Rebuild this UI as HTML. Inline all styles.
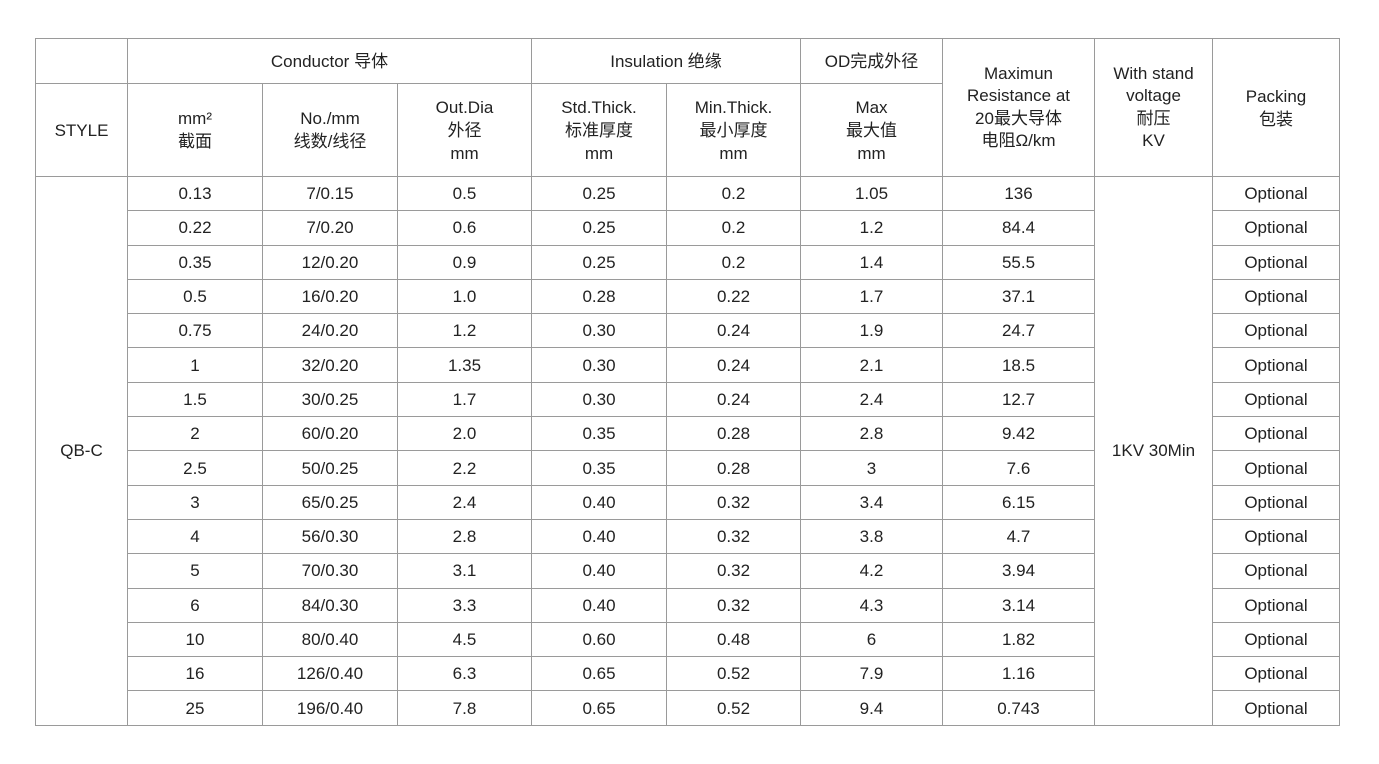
<!DOCTYPE html>
<html><head><meta charset="utf-8"><style>
html,body{margin:0;padding:0;background:#fff;width:1379px;height:764px;overflow:hidden;}
table{position:absolute;left:35px;top:38px;border-collapse:collapse;table-layout:fixed;width:1305px;
font-family:"Liberation Sans","Noto Sans CJK SC",sans-serif;color:#222;font-size:17px;}
td{border:1px solid #9a9a9a;text-align:center;vertical-align:middle;padding:0;line-height:21px;}
tr.h td{line-height:23px;}
tr.d td{height:33.3px;}
</style></head><body>
<table>
<colgroup><col style="width:92px"><col style="width:135px"><col style="width:135px"><col style="width:134px"><col style="width:135px"><col style="width:134px"><col style="width:142px"><col style="width:152px"><col style="width:118px"><col style="width:127px"></colgroup>
<tr class="h" style="height:45px"><td></td><td colspan="3">Conductor 导体</td><td colspan="2">Insulation 绝缘</td><td>OD完成外径</td><td rowspan="2" style="line-height:22.5px">Maximun<br>Resistance at<br>20最大导体<br>电阻Ω/km</td><td rowspan="2" style="line-height:22.5px">With stand<br>voltage<br>耐压<br>KV</td><td rowspan="2">Packing<br>包装</td></tr>
<tr class="h" style="height:93px"><td>STYLE</td><td>mm²<br>截面</td><td>No./mm<br>线数/线径</td><td>Out.Dia<br>外径<br>mm</td><td>Std.Thick.<br>标准厚度<br>mm</td><td>Min.Thick.<br>最小厚度<br>mm</td><td>Max<br>最大值<br>mm</td></tr>
<tr class="d"><td rowspan="16">QB-C</td><td>0.13</td><td>7/0.15</td><td>0.5</td><td>0.25</td><td>0.2</td><td>1.05</td><td>136</td><td rowspan="16">1KV 30Min</td><td>Optional</td></tr>
<tr class="d"><td>0.22</td><td>7/0.20</td><td>0.6</td><td>0.25</td><td>0.2</td><td>1.2</td><td>84.4</td><td>Optional</td></tr>
<tr class="d"><td>0.35</td><td>12/0.20</td><td>0.9</td><td>0.25</td><td>0.2</td><td>1.4</td><td>55.5</td><td>Optional</td></tr>
<tr class="d"><td>0.5</td><td>16/0.20</td><td>1.0</td><td>0.28</td><td>0.22</td><td>1.7</td><td>37.1</td><td>Optional</td></tr>
<tr class="d"><td>0.75</td><td>24/0.20</td><td>1.2</td><td>0.30</td><td>0.24</td><td>1.9</td><td>24.7</td><td>Optional</td></tr>
<tr class="d"><td>1</td><td>32/0.20</td><td>1.35</td><td>0.30</td><td>0.24</td><td>2.1</td><td>18.5</td><td>Optional</td></tr>
<tr class="d"><td>1.5</td><td>30/0.25</td><td>1.7</td><td>0.30</td><td>0.24</td><td>2.4</td><td>12.7</td><td>Optional</td></tr>
<tr class="d"><td>2</td><td>60/0.20</td><td>2.0</td><td>0.35</td><td>0.28</td><td>2.8</td><td>9.42</td><td>Optional</td></tr>
<tr class="d"><td>2.5</td><td>50/0.25</td><td>2.2</td><td>0.35</td><td>0.28</td><td>3</td><td>7.6</td><td>Optional</td></tr>
<tr class="d"><td>3</td><td>65/0.25</td><td>2.4</td><td>0.40</td><td>0.32</td><td>3.4</td><td>6.15</td><td>Optional</td></tr>
<tr class="d"><td>4</td><td>56/0.30</td><td>2.8</td><td>0.40</td><td>0.32</td><td>3.8</td><td>4.7</td><td>Optional</td></tr>
<tr class="d"><td>5</td><td>70/0.30</td><td>3.1</td><td>0.40</td><td>0.32</td><td>4.2</td><td>3.94</td><td>Optional</td></tr>
<tr class="d"><td>6</td><td>84/0.30</td><td>3.3</td><td>0.40</td><td>0.32</td><td>4.3</td><td>3.14</td><td>Optional</td></tr>
<tr class="d"><td>10</td><td>80/0.40</td><td>4.5</td><td>0.60</td><td>0.48</td><td>6</td><td>1.82</td><td>Optional</td></tr>
<tr class="d"><td>16</td><td>126/0.40</td><td>6.3</td><td>0.65</td><td>0.52</td><td>7.9</td><td>1.16</td><td>Optional</td></tr>
<tr class="d"><td>25</td><td>196/0.40</td><td>7.8</td><td>0.65</td><td>0.52</td><td>9.4</td><td>0.743</td><td>Optional</td></tr>
</table>
</body></html>
